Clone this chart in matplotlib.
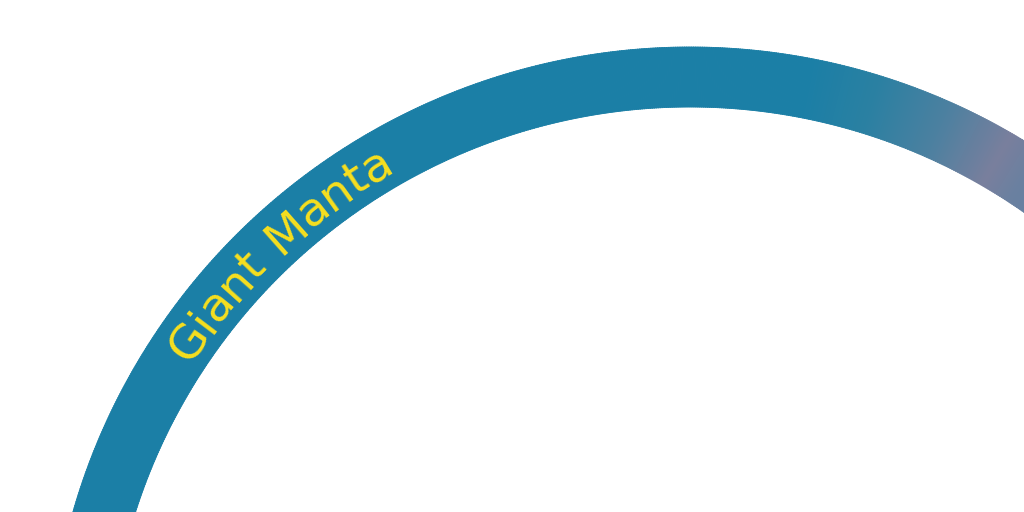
import numpy as np
import matplotlib.pyplot as plt
from matplotlib.patches import Wedge
from matplotlib.colors import to_rgb

# arc data (degrees, counter-clockwise from east)
labels = ["Giant Manta"]
arc_start = [50.0]
arc_end = [170.0]
label_mid = [133.3]

# colour stops along the arc (angle, colour)
stop_angles = [50.0, 57.0, 60.0, 66.0, 73.0, 79.0, 170.0]
stop_colors = ["#5f82a4", "#6a80a0", "#797f9d", "#4d80a0", "#2a80a2", "#1b7fa6", "#1b7fa6"]

label_color = "#f7df1e"

cx, cy = 690, 512 - 689
r_out, band = 642, 60

fig = plt.figure(figsize=(10.24, 5.12), dpi=100)
ax = fig.add_axes([0, 0, 1, 1])
ax.set_xlim(0, 1024)
ax.set_ylim(0, 512)
ax.set_aspect("equal")
ax.axis("off")

rgb = np.array([to_rgb(c) for c in stop_colors])
for a0, a1 in zip(arc_start, arc_end):
    steps = np.linspace(a0, a1, 600)
    for s0, s1 in zip(steps[:-1], steps[1:]):
        m = (s0 + s1) / 2
        col = [np.interp(m, stop_angles, rgb[:, k]) for k in range(3)]
        ax.add_patch(Wedge((cx, cy), r_out, s0, s1 + 0.05, width=band,
                           facecolor=col, edgecolor=col, linewidth=0.6))

# curved label: each character placed along the arc
fig.canvas.draw()
renderer = fig.canvas.get_renderer()
fsize = 34
r_base = r_out - band / 2 - 16
for text, mid in zip(labels, label_mid):
    widths = []
    for ch in text:
        t = ax.text(0, 0, ch if ch != " " else "n", fontsize=fsize, family="DejaVu Sans")
        w = t.get_window_extent(renderer).width
        t.remove()
        widths.append(w * (0.6 if ch == " " else 0.97))
    total = sum(widths)
    ang = mid + np.degrees(total / 2 / r_base)
    for ch, w in zip(text, widths):
        a = ang - np.degrees(w / 2 / r_base)
        x = cx + r_base * np.cos(np.radians(a))
        y = cy + r_base * np.sin(np.radians(a))
        ax.text(x, y, ch, fontsize=fsize, family="DejaVu Sans", color=label_color,
                rotation=a - 90, rotation_mode="anchor", ha="center", va="baseline")
        ang -= np.degrees(w / r_base)

fig.savefig("out.png", dpi=100)
